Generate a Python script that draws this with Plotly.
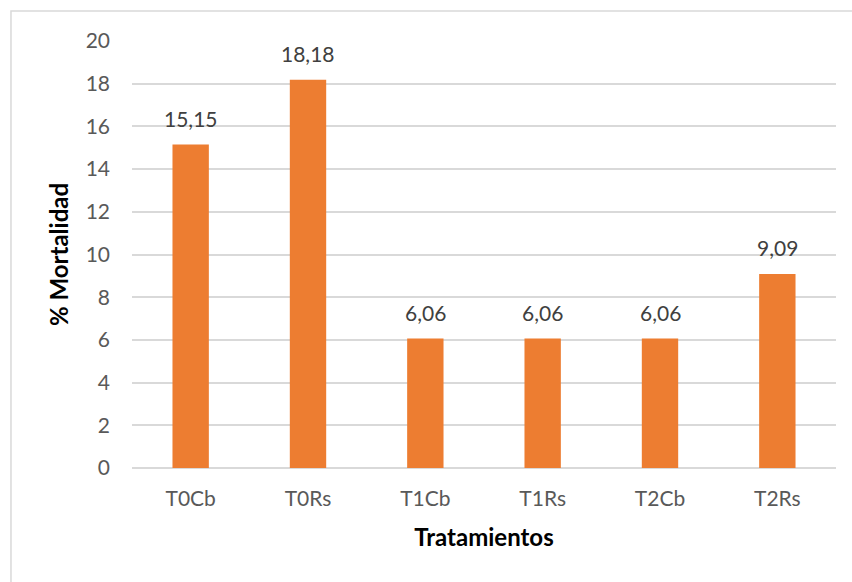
import plotly.graph_objects as go

# Mortality by treatment
tratamientos = ["T0Cb", "T0Rs", "T1Cb", "T1Rs", "T2Cb", "T2Rs"]
mortalidad = [15.15, 18.18, 6.06, 6.06, 6.06, 9.09]
y_ticks = [0, 2, 4, 6, 8, 10, 12, 14, 16, 18, 20]

FONT = "Lato, Calibri, 'Open Sans', sans-serif"

fig = go.Figure(
    go.Bar(
        x=tratamientos,
        y=mortalidad,
        marker=dict(color="#ED7D31", line=dict(width=0)),
        width=0.31,
        hoverinfo="x+y",
    )
)

# Value labels above each bar (decimal comma)
for cat, val in zip(tratamientos, mortalidad):
    fig.add_annotation(
        x=cat, y=val,
        text=f"{val:.2f}".replace(".", ","),
        showarrow=False,
        yanchor="bottom",
        yshift=12,
        font=dict(family=FONT, size=21, color="#404040"),
    )

fig.update_layout(
    width=852,
    height=582,
    margin=dict(l=132, r=16, t=41, b=114),
    paper_bgcolor="white",
    plot_bgcolor="white",
    showlegend=False,
    font=dict(family=FONT, color="#595959"),
)

fig.update_xaxes(
    showgrid=False,
    showline=False,
    ticks="",
    ticklabelstandoff=16,
    tickfont=dict(size=21, color="#595959"),
    title=dict(text="<b>Tratamientos</b>", font=dict(size=24, color="#000000"), standoff=20),
)

fig.update_yaxes(
    range=[0, 20],
    tickvals=y_ticks,
    showgrid=True,
    gridcolor="#D9D9D9",
    gridwidth=1.5,
    zeroline=True,
    zerolinecolor="#D9D9D9",
    zerolinewidth=1.5,
    showline=False,
    ticks="",
    ticklabelstandoff=21,
    tickfont=dict(size=21, color="#595959"),
    title=dict(text="<b>% Mortalidad</b>", font=dict(size=24, color="#000000"), standoff=10),
)

# Chart-area frame
fig.add_shape(
    type="rect",
    xref="paper", yref="paper",
    x0=-0.1719, x1=1.2, y0=-0.5, y1=1.0703,
    line=dict(color="#D9D9D9", width=1.5),
    fillcolor="rgba(0,0,0,0)",
    layer="below",
)

fig.write_html("out.html")
